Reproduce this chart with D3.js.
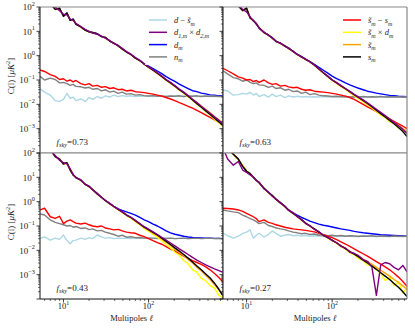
<!DOCTYPE html>
<html>
<head>
<meta charset="utf-8">
<script src="https://cdn.jsdelivr.net/npm/d3@7"></script>
<style>
body { margin: 0; background: #fff; }
svg { display: block; font-family: "Liberation Serif", "DejaVu Serif", serif; }
</style>
</head>
<body>
<svg width="415" height="329"></svg>
<script>
const ell = [5.3, 6, 7, 8, 9, 10, 11, 12, 13, 14, 16, 18, 20, 22, 25, 28, 31, 35, 39, 44, 49, 55, 62, 70, 79, 89,
    100, 113, 127, 143, 161, 181, 204, 230, 259, 292, 329, 370, 417, 470, 529, 596, 671, 750];

const fskyLabels = ["0.73", "0.63", "0.43", "0.27"];

// log10 C(l), one row per panel: fsky 0.73, 0.63, 0.43, 0.27
const dMinusSt = [
    [-1.36, -1.5, -1.62, -1.85, -1.88, -1.8, -1.55, -1.75, -1.7, -1.85, -1.78, -1.88, -1.72, -1.8, -1.68, -1.75, -1.65, -1.7, -1.62, -1.68, -1.64, -1.67, -1.65, -1.68, -1.66, -1.67, -1.66, -1.68, -1.66, -1.67, -1.68, -1.66, -1.67, -1.66, -1.68, -1.67, -1.66, -1.68, -1.67, -1.66, -1.68, -1.67, -1.68, -1.67],
    [-1.41, -1.45, -1.62, -1.6, -1.55, -1.58, -1.5, -1.62, -1.55, -1.68, -1.6, -1.7, -1.58, -1.68, -1.62, -1.72, -1.65, -1.7, -1.67, -1.7, -1.68, -1.7, -1.69, -1.7, -1.68, -1.7, -1.69, -1.7, -1.68, -1.7, -1.69, -1.7, -1.68, -1.7, -1.69, -1.7, -1.68, -1.7, -1.69, -1.7, -1.68, -1.7, -1.69, -1.7],
    [-1.51, -1.45, -1.58, -1.5, -1.55, -1.37, -1.6, -1.73, -1.6, -1.58, -1.5, -1.55, -1.48, -1.52, -1.37, -1.45, -1.5, -1.48, -1.52, -1.5, -1.51, -1.5, -1.52, -1.5, -1.51, -1.5, -1.52, -1.51, -1.5, -1.52, -1.51, -1.5, -1.52, -1.51, -1.5, -1.52, -1.51, -1.5, -1.52, -1.51, -1.5, -1.52, -1.51, -1.52],
    [-1.29, -1.4, -1.5, -1.42, -1.3, -1.25, -1.16, -1.5, -1.38, -1.3, -1.45, -1.35, -1.2, -1.3, -1.42, -1.38, -1.35, -1.4, -1.38, -1.41, -1.39, -1.42, -1.4, -1.41, -1.43, -1.41, -1.42, -1.4, -1.43, -1.41, -1.42, -1.43, -1.41, -1.42, -1.4, -1.43, -1.41, -1.42, -1.43, -1.41, -1.42, -1.43, -1.41, -1.42]
];
const d1xd2 = [
    [2.55, 2.4, 2.2, 2.0, 1.85, 1.7, 1.68, 1.5, 1.45, 1.33, 1.2, 1.08, 1.0, 0.93, 0.88, 0.8, 0.72, 0.62, 0.5, 0.42, 0.3, 0.17, 0.06, -0.08, -0.2, -0.34, -0.46, -0.58, -0.7, -0.84, -0.98, -1.1, -1.23, -1.37, -1.5, -1.64, -1.79, -1.93, -2.08, -2.22, -2.37, -2.51, -2.66, -2.8],
    [2.65, 2.55, 2.3, 2.1, 1.9, 1.8, 1.6, 1.42, 1.33, 1.12, 0.97, 0.83, 0.74, 0.58, 0.52, 0.38, 0.32, 0.16, 0.06, -0.06, -0.14, -0.26, -0.39, -0.54, -0.7, -0.84, -0.99, -1.11, -1.23, -1.35, -1.47, -1.59, -1.7, -1.82, -1.94, -2.07, -2.2, -2.33, -2.46, -2.6, -2.74, -2.88, -3.03, -3.2],
    [2.45, 2.25, 2.1, 1.9, 1.7, 1.6, 1.55, 1.35, 1.12, 0.98, 0.9, 0.7, 0.64, 0.48, 0.34, 0.17, 0.06, -0.07, -0.19, -0.31, -0.41, -0.54, -0.64, -0.77, -0.9, -1.03, -1.13, -1.24, -1.35, -1.47, -1.58, -1.7, -1.82, -1.94, -2.05, -2.17, -2.29, -2.4, -2.5, -2.6, -2.68, -2.76, -2.83, -2.9],
    [2.2, 1.75, 1.5, 1.65, 1.3, 1.2, 1.1, 1.02, 0.86, 0.8, 0.52, 0.4, 0.22, 0.12, -0.06, -0.18, -0.36, -0.46, -0.62, -0.73, -0.9, -0.98, -1.14, -1.23, -1.4, -1.46, -1.6, -1.68, -1.84, -1.9, -2.08, -2.12, -2.22, -2.38, -2.45, -2.7, -3.85, -2.6, -2.5, -2.55, -2.7, -2.8, -2.62, -2.88]
];
const dm = [
    [2.6, 2.45, 2.15, 1.9, 1.95, 1.62, 1.75, 1.45, 1.5, 1.3, 1.18, 1.05, 0.98, 0.95, 0.9, 0.78, 0.75, 0.6, 0.52, 0.4, 0.28, 0.15, 0.05, -0.09, -0.19, -0.33, -0.43, -0.53, -0.63, -0.74, -0.86, -0.96, -1.06, -1.17, -1.26, -1.35, -1.44, -1.48, -1.54, -1.57, -1.61, -1.62, -1.65, -1.65],
    [2.7, 2.5, 2.25, 2.05, 1.85, 1.95, 1.55, 1.45, 1.3, 1.15, 0.95, 0.85, 0.72, 0.6, 0.5, 0.4, 0.3, 0.18, 0.05, -0.04, -0.14, -0.24, -0.36, -0.48, -0.6, -0.72, -0.84, -0.94, -1.03, -1.12, -1.2, -1.27, -1.34, -1.4, -1.46, -1.5, -1.54, -1.57, -1.6, -1.63, -1.65, -1.67, -1.68, -1.69],
    [2.4, 2.3, 2.15, 1.85, 1.75, 1.55, 1.6, 1.3, 1.1, 1.0, 0.88, 0.72, 0.62, 0.5, 0.32, 0.18, 0.05, -0.08, -0.19, -0.3, -0.36, -0.42, -0.48, -0.55, -0.65, -0.75, -0.82, -0.92, -1.0, -1.1, -1.2, -1.28, -1.34, -1.38, -1.42, -1.45, -1.47, -1.48, -1.49, -1.5, -1.5, -1.51, -1.51, -1.52],
    [2.4, 2.2, 1.95, 1.75, 1.45, 1.25, 1.15, 1.0, 0.88, 0.78, 0.55, 0.38, 0.25, 0.1, -0.05, -0.2, -0.34, -0.46, -0.55, -0.65, -0.72, -0.8, -0.86, -0.92, -0.97, -1.0, -1.04, -1.08, -1.12, -1.15, -1.18, -1.22, -1.25, -1.28, -1.3, -1.32, -1.34, -1.36, -1.37, -1.38, -1.39, -1.4, -1.41, -1.42]
];
const nm = [
    [-0.85, -1.0, -0.92, -0.98, -1.12, -1.1, -1.15, -1.22, -1.18, -1.26, -1.28, -1.33, -1.3, -1.38, -1.35, -1.45, -1.4, -1.5, -1.46, -1.55, -1.5, -1.58, -1.56, -1.62, -1.6, -1.64, -1.66, -1.64, -1.67, -1.65, -1.68, -1.66, -1.67, -1.65, -1.68, -1.66, -1.67, -1.65, -1.68, -1.66, -1.67, -1.66, -1.68, -1.67],
    [-0.62, -0.75, -0.9, -0.95, -1.05, -1.0, -1.1, -1.15, -1.12, -1.2, -1.22, -1.3, -1.25, -1.35, -1.32, -1.42, -1.38, -1.48, -1.45, -1.55, -1.5, -1.6, -1.56, -1.62, -1.65, -1.66, -1.68, -1.67, -1.69, -1.68, -1.7, -1.69, -1.7, -1.68, -1.7, -1.69, -1.7, -1.68, -1.7, -1.69, -1.7, -1.69, -1.7, -1.69],
    [-0.5, -0.55, -0.75, -0.85, -0.9, -0.95, -1.0, -0.98, -1.05, -1.02, -1.1, -1.08, -1.15, -1.12, -1.2, -1.18, -1.25, -1.3, -1.35, -1.42, -1.38, -1.46, -1.44, -1.48, -1.47, -1.5, -1.49, -1.5, -1.52, -1.5, -1.51, -1.5, -1.52, -1.51, -1.5, -1.52, -1.51, -1.5, -1.52, -1.51, -1.5, -1.52, -1.51, -1.52],
    [-0.34, -0.38, -0.42, -0.45, -0.55, -0.62, -0.7, -0.75, -0.82, -0.9, -0.85, -0.98, -1.02, -1.08, -1.12, -1.15, -1.2, -1.25, -1.28, -1.32, -1.3, -1.35, -1.33, -1.38, -1.36, -1.4, -1.38, -1.41, -1.39, -1.42, -1.4, -1.41, -1.43, -1.41, -1.42, -1.4, -1.43, -1.41, -1.42, -1.43, -1.41, -1.42, -1.43, -1.42]
];
const stMinusS = [
    [-0.59, -0.65, -0.78, -0.85, -0.98, -0.95, -1.05, -1.0, -1.08, -1.02, -1.15, -1.2, -1.15, -1.25, -1.22, -1.3, -1.27, -1.35, -1.32, -1.4, -1.38, -1.45, -1.42, -1.48, -1.5, -1.52, -1.55, -1.58, -1.62, -1.66, -1.72, -1.78, -1.85, -1.93, -2.0, -2.08, -2.16, -2.25, -2.34, -2.44, -2.54, -2.64, -2.74, -2.84],
    [-0.52, -0.62, -0.75, -0.87, -0.92, -1.0, -0.98, -1.07, -1.02, -1.1, -1.0, -1.12, -1.18, -1.15, -1.25, -1.22, -1.28, -1.32, -1.3, -1.38, -1.42, -1.4, -1.46, -1.48, -1.5, -1.52, -1.55, -1.58, -1.62, -1.66, -1.72, -1.8, -1.9, -2.0, -2.1, -2.2, -2.3, -2.4, -2.5, -2.6, -2.7, -2.8, -2.9, -3.0],
    [-0.34, -0.27, -0.62, -0.69, -0.6, -0.9, -0.8, -0.75, -0.82, -0.88, -0.92, -0.88, -0.95, -1.0, -1.03, -1.0, -1.08, -1.12, -1.16, -1.14, -1.2, -1.25, -1.28, -1.3, -1.38, -1.44, -1.52, -1.6, -1.68, -1.75, -1.85, -1.95, -2.03, -2.14, -2.24, -2.33, -2.42, -2.5, -2.58, -2.68, -2.8, -2.95, -3.12, -3.3],
    [-0.27, -0.28, -0.3, -0.34, -0.4, -0.48, -0.55, -0.62, -0.7, -0.82, -0.75, -0.85, -0.89, -0.95, -1.0, -1.05, -1.08, -1.12, -1.14, -1.16, -1.18, -1.21, -1.24, -1.3, -1.36, -1.42, -1.48, -1.56, -1.65, -1.74, -1.84, -1.94, -2.04, -2.14, -2.24, -2.35, -2.46, -2.57, -2.68, -2.8, -2.94, -3.1, -3.28, -3.48]
];
const stXd = [
    [2.6, 2.45, 2.15, 1.91, 1.94, 1.63, 1.73, 1.46, 1.49, 1.3, 1.17, 1.05, 0.97, 0.95, 0.89, 0.78, 0.74, 0.6, 0.52, 0.4, 0.28, 0.15, 0.05, -0.1, -0.2, -0.36, -0.48, -0.61, -0.73, -0.87, -1.01, -1.14, -1.27, -1.42, -1.54, -1.7, -1.84, -2.0, -2.14, -2.3, -2.44, -2.62, -2.76, -2.92],
    [2.7, 2.5, 2.25, 2.05, 1.85, 1.94, 1.55, 1.45, 1.3, 1.15, 0.94, 0.85, 0.71, 0.6, 0.5, 0.39, 0.3, 0.17, 0.05, -0.06, -0.15, -0.26, -0.39, -0.56, -0.71, -0.86, -1.02, -1.14, -1.27, -1.39, -1.52, -1.65, -1.77, -1.9, -2.02, -2.15, -2.3, -2.45, -2.55, -2.72, -2.8, -2.98, -3.05, -3.2],
    [2.4, 2.3, 2.15, 1.85, 1.75, 1.55, 1.6, 1.3, 1.1, 1.0, 0.87, 0.72, 0.61, 0.5, 0.31, 0.18, 0.04, -0.08, -0.21, -0.33, -0.44, -0.57, -0.68, -0.82, -0.96, -1.1, -1.22, -1.34, -1.47, -1.6, -1.76, -1.9, -2.08, -2.2, -2.42, -2.55, -2.8, -2.9, -3.15, -3.25, -3.45, -3.55, -3.85, -3.95],
    [2.4, 2.2, 1.95, 1.71, 1.49, 1.25, 1.15, 1.0, 0.88, 0.78, 0.55, 0.37, 0.25, 0.1, -0.05, -0.21, -0.35, -0.48, -0.61, -0.75, -0.89, -1.0, -1.13, -1.26, -1.39, -1.5, -1.6, -1.72, -1.85, -1.95, -2.1, -2.18, -2.35, -2.42, -2.6, -2.62, -2.8, -2.95, -3.25, -3.1, -3.45, -3.3, -3.75, -3.55]
];
const st = [
    [2.6, 2.45, 2.15, 1.92, 1.93, 1.64, 1.72, 1.47, 1.48, 1.31, 1.17, 1.06, 0.97, 0.94, 0.89, 0.79, 0.73, 0.61, 0.51, 0.41, 0.27, 0.16, 0.04, -0.1, -0.21, -0.35, -0.48, -0.6, -0.73, -0.86, -1.0, -1.12, -1.26, -1.4, -1.52, -1.65, -1.79, -1.93, -2.07, -2.21, -2.35, -2.5, -2.64, -2.78],
    [2.7, 2.5, 2.25, 2.05, 1.86, 1.93, 1.56, 1.44, 1.31, 1.14, 0.95, 0.84, 0.72, 0.6, 0.49, 0.4, 0.29, 0.18, 0.04, -0.06, -0.16, -0.26, -0.39, -0.56, -0.71, -0.86, -1.01, -1.13, -1.25, -1.37, -1.5, -1.62, -1.74, -1.86, -1.98, -2.12, -2.26, -2.38, -2.5, -2.62, -2.74, -2.86, -3.0, -3.12],
    [2.4, 2.3, 2.15, 1.86, 1.74, 1.56, 1.58, 1.31, 1.1, 0.99, 0.88, 0.71, 0.62, 0.49, 0.32, 0.17, 0.05, -0.09, -0.2, -0.33, -0.43, -0.56, -0.66, -0.8, -0.93, -1.07, -1.17, -1.29, -1.4, -1.53, -1.67, -1.8, -1.95, -2.08, -2.22, -2.37, -2.52, -2.7, -2.85, -3.03, -3.2, -3.42, -3.62, -3.85],
    [2.4, 2.2, 1.95, 1.72, 1.48, 1.26, 1.14, 1.01, 0.87, 0.79, 0.54, 0.38, 0.24, 0.1, -0.06, -0.2, -0.35, -0.49, -0.6, -0.76, -0.88, -1.01, -1.12, -1.26, -1.38, -1.49, -1.58, -1.7, -1.82, -1.92, -2.04, -2.14, -2.24, -2.36, -2.46, -2.58, -2.7, -2.82, -2.94, -3.06, -3.2, -3.32, -3.46, -3.6]
];
const sm = [
    [2.6, 2.45, 2.15, 1.9, 1.95, 1.62, 1.75, 1.45, 1.5, 1.3, 1.18, 1.05, 0.98, 0.95, 0.9, 0.78, 0.75, 0.6, 0.52, 0.4, 0.28, 0.15, 0.05, -0.1, -0.2, -0.35, -0.47, -0.6, -0.72, -0.85, -1.0, -1.12, -1.25, -1.4, -1.52, -1.67, -1.82, -1.97, -2.12, -2.27, -2.42, -2.57, -2.72, -2.88],
    [2.7, 2.5, 2.25, 2.05, 1.85, 1.95, 1.55, 1.45, 1.3, 1.15, 0.95, 0.85, 0.72, 0.6, 0.5, 0.4, 0.3, 0.18, 0.05, -0.05, -0.15, -0.25, -0.38, -0.55, -0.7, -0.85, -1.0, -1.12, -1.24, -1.36, -1.48, -1.6, -1.72, -1.84, -1.96, -2.1, -2.24, -2.38, -2.52, -2.66, -2.8, -2.95, -3.12, -3.32],
    [2.4, 2.3, 2.15, 1.85, 1.75, 1.55, 1.6, 1.3, 1.1, 1.0, 0.88, 0.72, 0.62, 0.5, 0.32, 0.18, 0.05, -0.08, -0.2, -0.32, -0.42, -0.55, -0.65, -0.78, -0.92, -1.05, -1.15, -1.26, -1.37, -1.5, -1.63, -1.76, -1.9, -2.03, -2.17, -2.32, -2.48, -2.64, -2.8, -2.97, -3.14, -3.35, -3.6, -3.87],
    [2.4, 2.2, 1.95, 1.75, 1.45, 1.25, 1.15, 1.0, 0.88, 0.78, 0.55, 0.38, 0.25, 0.1, -0.05, -0.2, -0.35, -0.48, -0.6, -0.75, -0.88, -1.0, -1.12, -1.25, -1.38, -1.48, -1.58, -1.7, -1.82, -1.93, -2.05, -2.16, -2.27, -2.4, -2.52, -2.65, -2.78, -2.92, -3.06, -3.2, -3.36, -3.52, -3.7, -3.9]
];

const xTickLabels = [1, 2];
const yTickLabels = [2, 1, 0, -1, -2, -3];

// label pieces: i = italic, sub = subscript
const series = [
    {data: dMinusSt, color: "#add8e6", box: 0, label: [{t: "d", i: 1}, {t: " − "}, {t: "s\u0303", i: 1}, {t: "m", i: 1, sub: 1}]},
    {data: d1xd2, color: "#800080", box: 0, label: [{t: "d", i: 1}, {t: "1,m", i: 1, sub: 1}, {t: " × "}, {t: "d", i: 1}, {t: "2,m", i: 1, sub: 1}]},
    {data: dm, color: "#0000ff", box: 0, label: [{t: "d", i: 1}, {t: "m", i: 1, sub: 1}]},
    {data: nm, color: "#808080", box: 0, label: [{t: "n", i: 1}, {t: "m", i: 1, sub: 1}]},
    {data: stMinusS, color: "#ff0000", box: 1, label: [{t: "s\u0303", i: 1}, {t: "m", i: 1, sub: 1}, {t: " − "}, {t: "s", i: 1}, {t: "m", i: 1, sub: 1}]},
    {data: stXd, color: "#ffff00", box: 1, label: [{t: "s\u0303", i: 1}, {t: "m", i: 1, sub: 1}, {t: " × "}, {t: "d", i: 1}, {t: "m", i: 1, sub: 1}]},
    {data: st, color: "#ffa500", box: 1, label: [{t: "s\u0303", i: 1}, {t: "m", i: 1, sub: 1}]},
    {data: sm, color: "#000000", box: 1, label: [{t: "s", i: 1}, {t: "m", i: 1, sub: 1}]}
];
// purple is drawn last, over the signal curves
const drawOrder = [0, 2, 3, 4, 5, 6, 7, 1];

const cols = [[40, 223], [223, 407]];
const rows = [[7, 153], [153, 299]];

const svg = d3.select("svg");
const textColor = "#222";

const richText = (sel, parts, size) => {
    let shift = 0;
    parts.forEach(p => {
        const target = p.sub ? size * 0.3 : p.sup ? -size * 0.45 : 0;
        sel.append("tspan")
            .attr("dy", target - shift)
            .attr("font-size", p.sub || p.sup ? size * 0.7 : size)
            .attr("font-style", p.i ? "italic" : "normal")
            .text(p.t);
        shift = target;
    });
};

const powerLabel = (k) => [{t: "10"}, {t: k < 0 ? "−" + (-k) : "" + k, sup: 1}];

const minorTicks = (lo, hi) => {
    const out = [];
    for (let e = Math.floor(Math.log10(lo)); e <= Math.ceil(Math.log10(hi)); e++) {
        for (let m = 2; m <= 9; m++) {
            const v = m * Math.pow(10, e);
            if (v >= lo && v <= hi) out.push(v);
        }
    }
    return out;
};

const drawPanel = (p) => {
    const col = p % 2, row = Math.floor(p / 2);
    const [x0, x1] = cols[col];
    const [y0, y1] = rows[row];

    const x = d3.scaleLog().domain([5.3, 750]).range([x0, x1]);
    const y = d3.scaleLog().domain([1e-4, 1e2]).range([y1, y0]);

    const g = svg.append("g");
    g.append("rect").attr("x", x0).attr("y", y0).attr("width", x1 - x0).attr("height", y1 - y0).attr("fill", "#fff");

    g.append("clipPath").attr("id", "clip" + p)
        .append("rect").attr("x", x0).attr("y", y0).attr("width", x1 - x0).attr("height", y1 - y0);

    const line = d3.line()
        .x((d, i) => x(ell[i]))
        .y(d => y(Math.pow(10, d)));

    const plot = g.append("g").attr("clip-path", `url(#clip${p})`);
    drawOrder.forEach(k => {
        plot.append("path")
            .datum(series[k].data[p])
            .attr("fill", "none")
            .attr("stroke", series[k].color)
            .attr("stroke-width", 1.4)
            .attr("stroke-linejoin", "round")
            .attr("d", line);
    });

    // spines
    g.append("line").attr("x1", x0).attr("x2", x1).attr("y1", y0).attr("y2", y0).attr("stroke", "#888").attr("stroke-width", 1.2);
    g.append("line").attr("x1", x1).attr("x2", x1).attr("y1", y0).attr("y2", y1).attr("stroke", "#888").attr("stroke-width", 1.2);
    g.append("line").attr("x1", x0).attr("x2", x1).attr("y1", y1).attr("y2", y1)
        .attr("stroke", row === 1 ? "#111" : "#888").attr("stroke-width", row === 1 ? 1 : 1.2);
    g.append("line").attr("x1", x0).attr("x2", x0).attr("y1", y0).attr("y2", y1).attr("stroke", "#111").attr("stroke-width", 1);

    // y ticks
    const yMajor = d3.range(-4, 3).map(e => Math.pow(10, e));
    g.selectAll(null).data(yMajor).enter().append("line")
        .attr("x1", x0 - 3.5).attr("x2", x0).attr("y1", d => y(d)).attr("y2", d => y(d))
        .attr("stroke", "#111").attr("stroke-width", 0.8);
    g.selectAll(null).data(minorTicks(1e-4, 1e2)).enter().append("line")
        .attr("x1", x0 - 2).attr("x2", x0).attr("y1", d => y(d)).attr("y2", d => y(d))
        .attr("stroke", "#111").attr("stroke-width", 0.6);

    if (col === 0) {
        yTickLabels.forEach(k => {
            const t = g.append("text")
                .attr("x", x0 - 5).attr("y", y(Math.pow(10, k)) + 3.2)
                .attr("text-anchor", "end").attr("fill", textColor);
            richText(t, powerLabel(k), 9);
        });
        const t = g.append("text")
            .attr("transform", `translate(14,${(y0 + y1) / 2 - 4}) rotate(-90)`)
            .attr("text-anchor", "middle").attr("fill", textColor);
        richText(t, [{t: "C(l) ["}, {t: "μK", i: 1}, {t: "2", sup: 1}, {t: "]"}], 9);
    }

    if (row === 1) {
        g.selectAll(null).data([10, 100]).enter().append("line")
            .attr("x1", d => x(d)).attr("x2", d => x(d)).attr("y1", y1).attr("y2", y1 + 3.5)
            .attr("stroke", "#111").attr("stroke-width", 0.8);
        g.selectAll(null).data(minorTicks(5.3, 750)).enter().append("line")
            .attr("x1", d => x(d)).attr("x2", d => x(d)).attr("y1", y1).attr("y2", y1 + 2)
            .attr("stroke", "#111").attr("stroke-width", 0.6);
        xTickLabels.forEach(k => {
            const t = g.append("text")
                .attr("x", x(Math.pow(10, k))).attr("y", y1 + 10)
                .attr("text-anchor", "middle").attr("fill", textColor);
            richText(t, powerLabel(k), 8.5);
        });
        const t = g.append("text")
            .attr("x", (x0 + x1) / 2).attr("y", y1 + 21.5)
            .attr("text-anchor", "middle").attr("fill", textColor);
        richText(t, [{t: "Multipoles "}, {t: "ℓ", i: 1}], 8.5);
    }

    const f = g.append("text").attr("x", x0 + 16.5).attr("y", y1 - 8.5).attr("fill", textColor);
    richText(f, [{t: "f", i: 1}, {t: "sky", i: 1, sub: 1}, {t: "=" + fskyLabels[p]}], 9);

    // legends live in the two top panels
    if (row === 0) {
        const entries = series.filter(s => s.box === col);
        const lx = col === 0 ? 149 : 343;
        const legend = g.append("g");
        legend.append("rect")
            .attr("x", lx - 4).attr("y", y0 + 4).attr("width", x1 - lx + 1).attr("height", 54)
            .attr("fill", "#fff").attr("opacity", 0.8);
        entries.forEach((s, i) => {
            const ly = y0 + 13 + i * 12.3;
            legend.append("line")
                .attr("x1", lx).attr("x2", lx + 18).attr("y1", ly).attr("y2", ly)
                .attr("stroke", s.color).attr("stroke-width", 1.5);
            const t = legend.append("text")
                .attr("x", lx + 25).attr("y", ly + 3).attr("fill", textColor);
            richText(t, s.label, 8.5);
        });
    }
};

[0, 1, 2, 3].forEach(drawPanel);
</script>
</body>
</html>
